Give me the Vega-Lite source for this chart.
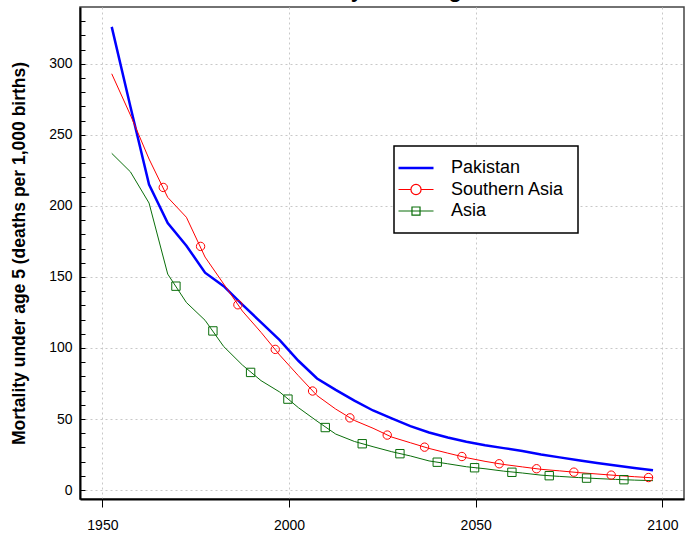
{
  "$schema": "https://vega.github.io/schema/vega-lite/v6.json",
  "width": 604,
  "height": 492,
  "autosize": "none",
  "padding": {"left": 80, "top": 7, "right": 13, "bottom": 36},
  "background": "white",
  "title": {"text": "Mortality under age 5", "fontSize": 22, "fontWeight": "bold", "font": "Liberation Sans", "anchor": "middle", "baseline": "alphabetic", "offset": 0, "dy": 12, "color": "black"},
  "config": {
    "view": {"stroke": "#444444", "strokeWidth": 1.5},
    "font": "Liberation Sans"
  },
  "datasets": {
    "lines": [
      {"series": "Pakistan", "year": 1952.5, "value": 326},
      {"series": "Pakistan", "year": 1957.5, "value": 270},
      {"series": "Pakistan", "year": 1962.5, "value": 215},
      {"series": "Pakistan", "year": 1967.5, "value": 188},
      {"series": "Pakistan", "year": 1972.5, "value": 172},
      {"series": "Pakistan", "year": 1977.5, "value": 153},
      {"series": "Pakistan", "year": 1982.5, "value": 143.5},
      {"series": "Pakistan", "year": 1987.5, "value": 130.5},
      {"series": "Pakistan", "year": 1992.5, "value": 118},
      {"series": "Pakistan", "year": 1997.5, "value": 105.5},
      {"series": "Pakistan", "year": 2002.5, "value": 91},
      {"series": "Pakistan", "year": 2007.5, "value": 78.5},
      {"series": "Pakistan", "year": 2012.5, "value": 70.5},
      {"series": "Pakistan", "year": 2017.5, "value": 63},
      {"series": "Pakistan", "year": 2022.5, "value": 56},
      {"series": "Pakistan", "year": 2027.5, "value": 50.5},
      {"series": "Pakistan", "year": 2032.5, "value": 45},
      {"series": "Pakistan", "year": 2037.5, "value": 40.5},
      {"series": "Pakistan", "year": 2042.5, "value": 37},
      {"series": "Pakistan", "year": 2047.5, "value": 34},
      {"series": "Pakistan", "year": 2052.5, "value": 31.5},
      {"series": "Pakistan", "year": 2057.5, "value": 29.5},
      {"series": "Pakistan", "year": 2062.5, "value": 27.5},
      {"series": "Pakistan", "year": 2067.5, "value": 25},
      {"series": "Pakistan", "year": 2072.5, "value": 23},
      {"series": "Pakistan", "year": 2077.5, "value": 21},
      {"series": "Pakistan", "year": 2082.5, "value": 19},
      {"series": "Pakistan", "year": 2087.5, "value": 17.2},
      {"series": "Pakistan", "year": 2092.5, "value": 15.5},
      {"series": "Pakistan", "year": 2097.5, "value": 14},
      {"series": "Southern Asia", "year": 1952.5, "value": 293},
      {"series": "Southern Asia", "year": 1957.5, "value": 264},
      {"series": "Southern Asia", "year": 1962.5, "value": 233},
      {"series": "Southern Asia", "year": 1967.5, "value": 206},
      {"series": "Southern Asia", "year": 1972.5, "value": 192},
      {"series": "Southern Asia", "year": 1977.5, "value": 164},
      {"series": "Southern Asia", "year": 1982.5, "value": 145},
      {"series": "Southern Asia", "year": 1987.5, "value": 126},
      {"series": "Southern Asia", "year": 1992.5, "value": 111},
      {"series": "Southern Asia", "year": 1997.5, "value": 95},
      {"series": "Southern Asia", "year": 2002.5, "value": 80.5},
      {"series": "Southern Asia", "year": 2007.5, "value": 66.5},
      {"series": "Southern Asia", "year": 2012.5, "value": 57},
      {"series": "Southern Asia", "year": 2017.5, "value": 49},
      {"series": "Southern Asia", "year": 2022.5, "value": 43.5},
      {"series": "Southern Asia", "year": 2027.5, "value": 37.3},
      {"series": "Southern Asia", "year": 2032.5, "value": 33.3},
      {"series": "Southern Asia", "year": 2037.5, "value": 29.3},
      {"series": "Southern Asia", "year": 2042.5, "value": 26},
      {"series": "Southern Asia", "year": 2047.5, "value": 22.8},
      {"series": "Southern Asia", "year": 2052.5, "value": 20.2},
      {"series": "Southern Asia", "year": 2057.5, "value": 18},
      {"series": "Southern Asia", "year": 2062.5, "value": 16.3},
      {"series": "Southern Asia", "year": 2067.5, "value": 14.6},
      {"series": "Southern Asia", "year": 2072.5, "value": 13.5},
      {"series": "Southern Asia", "year": 2077.5, "value": 12.3},
      {"series": "Southern Asia", "year": 2082.5, "value": 11.3},
      {"series": "Southern Asia", "year": 2087.5, "value": 10.3},
      {"series": "Southern Asia", "year": 2092.5, "value": 9.4},
      {"series": "Southern Asia", "year": 2097.5, "value": 8.6},
      {"series": "Asia", "year": 1952.5, "value": 237},
      {"series": "Asia", "year": 1957.5, "value": 224},
      {"series": "Asia", "year": 1962.5, "value": 202},
      {"series": "Asia", "year": 1967.5, "value": 152},
      {"series": "Asia", "year": 1972.5, "value": 132},
      {"series": "Asia", "year": 1977.5, "value": 119.5},
      {"series": "Asia", "year": 1982.5, "value": 101},
      {"series": "Asia", "year": 1987.5, "value": 88},
      {"series": "Asia", "year": 1992.5, "value": 77},
      {"series": "Asia", "year": 1997.5, "value": 69},
      {"series": "Asia", "year": 2002.5, "value": 58},
      {"series": "Asia", "year": 2007.5, "value": 48.5},
      {"series": "Asia", "year": 2012.5, "value": 39.4},
      {"series": "Asia", "year": 2017.5, "value": 34.2},
      {"series": "Asia", "year": 2022.5, "value": 30.5},
      {"series": "Asia", "year": 2027.5, "value": 27},
      {"series": "Asia", "year": 2032.5, "value": 24},
      {"series": "Asia", "year": 2037.5, "value": 20.5},
      {"series": "Asia", "year": 2042.5, "value": 18.5},
      {"series": "Asia", "year": 2047.5, "value": 16.4},
      {"series": "Asia", "year": 2052.5, "value": 15},
      {"series": "Asia", "year": 2057.5, "value": 13.3},
      {"series": "Asia", "year": 2062.5, "value": 12},
      {"series": "Asia", "year": 2067.5, "value": 10.5},
      {"series": "Asia", "year": 2072.5, "value": 9.6},
      {"series": "Asia", "year": 2077.5, "value": 8.8},
      {"series": "Asia", "year": 2082.5, "value": 8.1},
      {"series": "Asia", "year": 2087.5, "value": 7.5},
      {"series": "Asia", "year": 2092.5, "value": 7},
      {"series": "Asia", "year": 2097.5, "value": 6.6}
    ],
    "markers": [
      {"series": "Southern Asia", "year": 1966.3, "value": 213},
      {"series": "Southern Asia", "year": 1976.3, "value": 171.5},
      {"series": "Southern Asia", "year": 1986.3, "value": 130.4},
      {"series": "Southern Asia", "year": 1996.3, "value": 99},
      {"series": "Southern Asia", "year": 2006.3, "value": 69.7},
      {"series": "Southern Asia", "year": 2016.3, "value": 50.8},
      {"series": "Southern Asia", "year": 2026.3, "value": 38.7},
      {"series": "Southern Asia", "year": 2036.3, "value": 30.2},
      {"series": "Southern Asia", "year": 2046.3, "value": 23.6},
      {"series": "Southern Asia", "year": 2056.3, "value": 18.5},
      {"series": "Southern Asia", "year": 2066.3, "value": 15},
      {"series": "Southern Asia", "year": 2076.3, "value": 12.6},
      {"series": "Southern Asia", "year": 2086.3, "value": 10.5},
      {"series": "Southern Asia", "year": 2096.3, "value": 8.8},
      {"series": "Asia", "year": 1969.7, "value": 143.5},
      {"series": "Asia", "year": 1979.6, "value": 112},
      {"series": "Asia", "year": 1989.7, "value": 82.8},
      {"series": "Asia", "year": 1999.7, "value": 64},
      {"series": "Asia", "year": 2009.7, "value": 44},
      {"series": "Asia", "year": 2019.6, "value": 32.6},
      {"series": "Asia", "year": 2029.7, "value": 25.6},
      {"series": "Asia", "year": 2039.7, "value": 19.6},
      {"series": "Asia", "year": 2049.7, "value": 15.7},
      {"series": "Asia", "year": 2059.7, "value": 12.5},
      {"series": "Asia", "year": 2069.7, "value": 10.1},
      {"series": "Asia", "year": 2079.7, "value": 8.4},
      {"series": "Asia", "year": 2089.7, "value": 7.3}
    ]
  },
  "encoding": {
    "x": {
      "field": "year", "type": "quantitative",
      "scale": {"domain": [1944.0, 2105.8], "nice": false, "zero": false},
      "axis": {
        "title": null,
        "values": [1950, 2000, 2050, 2100],
        "format": "d",
        "grid": true, "gridColor": "#c8c8c8", "gridDash": [2, 3], "gridWidth": 1,
        "domainColor": "black", "domainWidth": 2,
        "tickColor": "black", "tickWidth": 1, "tickSize": 8,
        "labelFont": "Liberation Sans", "labelFontSize": 14, "labelColor": "black",
        "labelPadding": 11, "labelFlush": false
      }
    },
    "y": {
      "field": "value", "type": "quantitative",
      "scale": {"domain": [-6.3, 340], "nice": false, "zero": false},
      "axis": {
        "title": "Mortality under age 5 (deaths per 1,000 births)",
        "titleFont": "Liberation Sans", "titleFontSize": 17.5, "titleFontWeight": "bold", "titleColor": "black",
        "titlePadding": 20,
        "values": [0, 10, 20, 30, 40, 50, 60, 70, 80, 90, 100, 110, 120, 130, 140, 150, 160, 170, 180, 190, 200, 210, 220, 230, 240, 250, 260, 270, 280, 290, 300, 310, 320, 330],
        "labelExpr": "datum.value % 50 === 0 ? datum.label : ''",
        "grid": true, "gridColor": "#c8c8c8", "gridDash": [2, 3], "gridWidth": 1,
        "gridOpacity": {"condition": {"test": "datum.value % 50 === 0", "value": 1}, "value": 0},
        "domainColor": "black", "domainWidth": 2,
        "tickColor": "black", "tickWidth": 1, "tickSize": -5,
        "labelFont": "Liberation Sans", "labelFontSize": 14, "labelColor": "black",
        "labelPadding": 13, "labelFlush": false
      }
    }
  },
  "layer": [
    {
      "data": {"name": "lines"},
      "mark": {"type": "line", "interpolate": "linear"},
      "encoding": {
        "color": {
          "field": "series", "type": "nominal",
          "scale": {"domain": ["Pakistan", "Southern Asia", "Asia"], "range": ["#0000ff", "#ff0000", "#0a6e0a"]},
          "legend": {
            "title": null,
            "orient": "none", "legendX": 314, "legendY": 139,
            "labelFont": "Liberation Sans", "labelFontSize": 18, "labelColor": "black",
            "labelOffset": 26, "rowPadding": 3.5, "padding": 13,
            "symbolSize": 1225,
            "strokeColor": "black", "fillColor": "white",
            "encode": {
              "legend": {"update": {"strokeWidth": {"value": 1.5}}},
              "symbols": {"update": {
                "shape": {"signal": "datum.value === 'Pakistan' ? 'M-1,0H1' : datum.value === 'Southern Asia' ? 'M-1,0H-0.29M0.29,0H1M0.29,0A0.29,0.29 0 1,1 -0.29,0A0.29,0.29 0 1,1 0.29,0' : 'M-1,0H1M-0.23,-0.23H0.23V0.23H-0.23Z'"},
                "strokeWidth": {"signal": "datum.value === 'Pakistan' ? 2.5 : 1.2"},
                "fill": {"value": "transparent"}
              }}
            }
          }
        },
        "strokeWidth": {"condition": {"test": "datum.series === 'Pakistan'", "value": 2.5}, "value": 1}
      }
    },
    {
      "data": {"name": "markers"},
      "mark": {"type": "point", "filled": false, "strokeWidth": 1, "opacity": 1},
      "encoding": {
        "stroke": {
          "field": "series", "type": "nominal",
          "scale": {"domain": ["Southern Asia", "Asia"], "range": ["#ff0000", "#0a6e0a"]},
          "legend": null
        },
        "shape": {
          "field": "series", "type": "nominal",
          "scale": {"domain": ["Southern Asia", "Asia"], "range": ["circle", "square"]},
          "legend": null
        },
        "size": {"value": 70}
      }
    }
  ]
}
